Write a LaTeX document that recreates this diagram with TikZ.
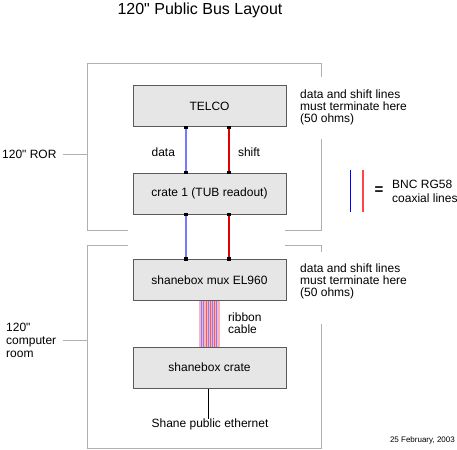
\documentclass[tikz,border=0pt]{standalone}
\usepackage{fontspec}
\setmainfont{Liberation Sans}
\definecolor{boxfill}{HTML}{E6E6E6}
\definecolor{boxline}{HTML}{5A5A5A}
\definecolor{frame}{HTML}{B0B0B0}
\definecolor{datablue}{HTML}{7878FF}
\definecolor{shiftred}{RGB}{225,0,0}
\definecolor{ribpink}{HTML}{FFB3B8}
\definecolor{ribblue}{HTML}{8080FF}
\definecolor{ribred}{HTML}{E0607A}
\definecolor{legblue}{HTML}{0000FF}
\definecolor{legred}{RGB}{255,70,70}
\begin{document}
\begin{tikzpicture}[x=1pt,y=-1pt,
  unitbox/.style={draw=boxline,fill=boxfill,line width=1pt,minimum width=153pt,minimum height=41pt,inner sep=0pt,font=\fontsize{12}{12}\selectfont},
  lbl/.style={inner sep=0pt,font=\fontsize{12}{12}\selectfont},
  lblml/.style={inner sep=0pt,align=left,anchor=north west,font=\fontsize{12}{12}\selectfont},
  framebr/.style={draw=frame,line width=0.9pt},
  dataline/.style={draw=datablue,line width=1.6pt},
  shiftline/.style={draw=shiftred,line width=1.25pt},
  enddot/.style={fill=black}]
\useasboundingbox (0,0) rectangle (457,449);
% title
\node[lbl,anchor=base,font=\fontsize{16}{16}\selectfont] (title) at (200,14.5) {120\textquotedbl{} Public Bus Layout};
% frames
\draw[framebr] (321.5,77) -- (321.5,63.5) -- (87.5,63.5) -- (87.5,230.5) -- (128,230.5);
\draw[framebr] (285,230.5) -- (321.5,230.5) -- (321.5,139);
\draw[framebr] (128,245.5) -- (87.5,245.5) -- (87.5,448) -- (321.5,448) -- (321.5,324);
\draw[framebr] (285,245.5) -- (321.5,245.5) -- (321.5,252);
% region labels
\node[lbl,anchor=base west] (ror) at (2,158) {120\textquotedbl{} ROR};
\coordinate (rortick) at (63,154.5);
\draw[framebr] (rortick) -- (87.5,154.5);
\node[lblml,font=\fontsize{12}{13}\selectfont] (room) at (6,323) {120\textquotedbl\\computer\\room};
\coordinate (roomtick) at (63,340.5);
\draw[framebr] (roomtick) -- (87.5,340.5);
% boxes
\node[unitbox] (telco) at (209.5,106.5) {TELCO};
\node[unitbox] (crate1) at (209.5,193.5) {crate 1 (TUB readout)};
\node[unitbox] (mux) at (209.5,280) {shanebox mux EL960};
\node[unitbox] (scrate) at (209.5,367.5) {shanebox crate};
% line x positions
\coordinate (dx) at (186,0);
\coordinate (sx) at (229,0);
\coordinate (r1) at (198.5,0);
\coordinate (r2) at (219.5,0);
% data / shift lines
\draw[dataline] (telco.south -| dx) -- (crate1.north -| dx);
\draw[shiftline] (telco.south -| sx) -- (crate1.north -| sx);
\draw[dataline] (crate1.south -| dx) -- (mux.north -| dx);
\draw[shiftline] (crate1.south -| sx) -- (mux.north -| sx);
\foreach \b/\a in {telco/south,crate1/north,crate1/south,mux/north}{
  \foreach \c in {dx,sx}{
    \fill[enddot] (\b.\a -| \c) +(-1.6,-1.6) rectangle +(1.6,1.6);
  }
}
\node[lbl] (datalbl) at (163.3,152) {data};
\node[lbl] (shiftlbl) at (249,152) {shift};
% ribbon cable
\fill[ribpink] (mux.south -| r1) rectangle (scrate.north -| r2);
\foreach \xx/\cc in {201/ribblue,203.5/ribblue,206/ribred,208/ribblue,210/ribred,212/ribblue,214/ribred,216.5/ribblue}{
  \draw[\cc,line width=0.9pt] (mux.south -| {\xx,0}) -- (scrate.north -| {\xx,0});
}
\node[lblml] (ribbon) at (228,313) {ribbon\\cable};
% ethernet
\node[lbl,anchor=base] (eth) at (210,427.5) {Shane public ethernet};
\draw[line width=1pt] (scrate.south -| {208.5,0}) -- (eth.north -| {208.5,0});
% terminate notes
\node[lblml] (term1) at (300,89.5) {data and shift lines\\must terminate here\\(50 ohms)};
\node[lblml] (term2) at (300,263.5) {data and shift lines\\must terminate here\\(50 ohms)};
% legend
\coordinate (lb1) at (350.5,170);
\coordinate (lb2) at (350.5,212);
\coordinate (lr1) at (363,170);
\coordinate (lr2) at (363,212);
\draw[draw=legblue,line width=1.1pt] (lb1) -- (lb2);
\draw[draw=legred,line width=1.3pt] (lr1) -- (lr2);
\node[lbl,font=\fontsize{15}{15}\selectfont\bfseries] (eq) at (379,191) {=};
\node[lblml,font=\fontsize{12}{14}\selectfont] (bnc) at (392,179.8) {BNC RG58\\coaxial lines};
% date
\node[lbl,anchor=base east,font=\fontsize{8}{8}\selectfont] (date) at (455,442) {25 February, 2003};
\end{tikzpicture}
\end{document}
